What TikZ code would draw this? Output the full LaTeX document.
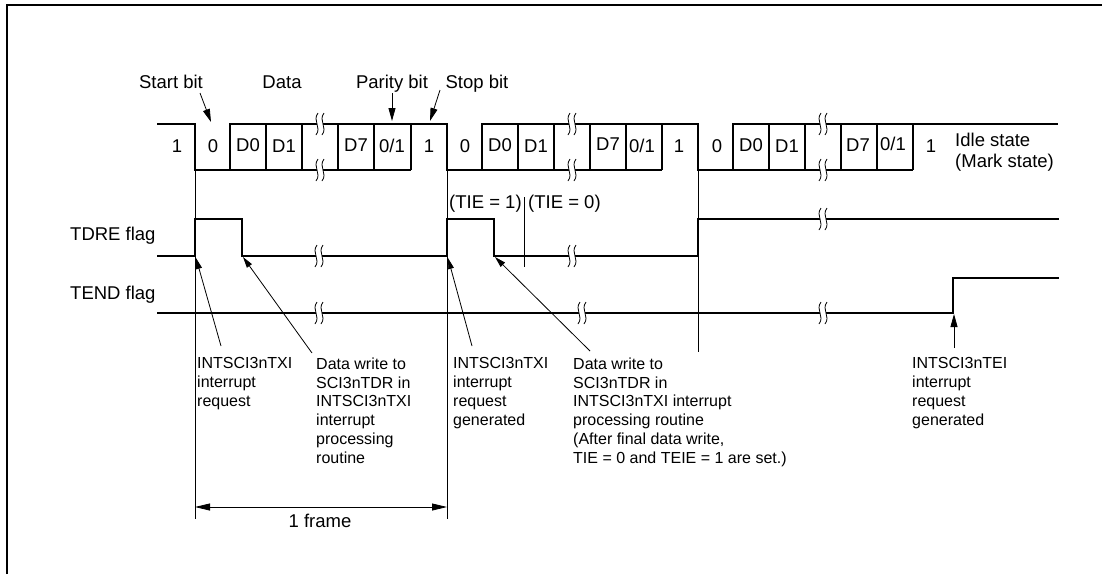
\documentclass[tikz,border=0pt]{standalone}
\usepackage{fontspec}
\setmainfont{Liberation Sans}
\usetikzlibrary{arrows.meta}
\begin{document}
\begin{tikzpicture}[x=1pt,y=-1pt,
  sig/.style={line width=1.8pt, line join=miter},
  thinl/.style={line width=0.9pt},
  ptr/.style={line width=0.8pt, -{Triangle[length=11pt,width=6pt]}},
  bigptr/.style={line width=0.8pt, -{Triangle[length=13pt,width=7pt]}},
  dimarr/.style={line width=0.8pt, {Triangle[length=15pt,width=7pt]}-{Triangle[length=15pt,width=7pt]}},
  lab/.style={font=\fontsize{18.5}{20}\selectfont, inner sep=0pt},
  note/.style={font=\fontsize{16}{18.8}\selectfont, inner sep=0pt, align=left, anchor=north west},
  brk/.pic={
    \fill[white] (1,-11) .. controls (-5,-3) and (5,3) .. (-1,11) -- (5,11) .. controls (11,3) and (1,-3) .. (7,-11) -- cycle;
    \draw[line width=0.8pt] (1,-11) .. controls (-5,-3) and (5,3) .. (-1,11);
    \draw[line width=0.8pt] (7,-11) .. controls (1,-3) and (11,3) .. (5,11);
  }
]
\useasboundingbox (0,0) rectangle (1102,574);
\draw[line width=2pt] (7,574) -- (7,5) -- (1102,5);

% ---------- serial data waveform ----------
% frame 1
\draw[sig] (157,124) -- (195,124) -- (195,170) -- (411,170);
\draw[sig] (230,170) -- (230,124) -- (447,124) -- (447,170) -- (662,170);
\foreach \x in {266,302,338,374,411} \draw[sig] (\x,124) -- (\x,170);
% frame 2
\draw[sig] (482,170) -- (482,124) -- (698,124) -- (698,170) -- (913,170);
\foreach \x in {518,554,590,626,662} \draw[sig] (\x,124) -- (\x,170);
% frame 3
\draw[sig] (733,170) -- (733,124) -- (1058,124);
\foreach \x in {769,805,841,877,913} \draw[sig] (\x,124) -- (\x,170);

% ---------- TDRE / TEND ----------
\draw[sig] (157,256) -- (195,256) -- (195,219) -- (242,219) -- (242,256) -- (447,256) -- (447,219) -- (494,219) -- (494,256) -- (698,256) -- (698,219) -- (1059,219);
\draw[sig] (157,313) -- (953,313) -- (953,278) -- (1059,278);

% ---------- thin vertical guides ----------
\draw[thinl] (195,170) -- (195,519);
\draw[thinl] (447,170) -- (447,519);
\draw[thinl] (698,170) -- (698,352);
\draw[thinl] (524,197) -- (524,267);

% ---------- breaks ----------
\foreach \x in {317,569,820} {\pic at (\x,124) {brk}; \pic at (\x,170) {brk};}
\pic at (316,256) {brk};
\pic at (569,256) {brk};
\pic at (820,219) {brk};
\pic at (316,313) {brk};
\pic at (579,313) {brk};
\pic at (820,313) {brk};

% ---------- labels ----------
\node[lab, anchor=base] (startbit) at (171,88) {Start bit};
\node[lab, anchor=base] (data) at (282,88) {Data};
\node[lab, anchor=base] (parity) at (392,88) {Parity bit};
\node[lab, anchor=base] (stopbit) at (477,88) {Stop bit};

\coordinate (sbA) at (200,93);  \coordinate (sbB) at (211,122);
\coordinate (pbA) at (392,93);  \coordinate (pbB) at (392,121);
\coordinate (stA) at (440,90);  \coordinate (stB) at (430,121);
\draw[bigptr] (sbA) -- (sbB);
\draw[bigptr] (pbA) -- (pbB);
\draw[bigptr] (stA) -- (stB);

% bit labels
\node[lab, anchor=base] (f1a) at (177,152) {1};
\node[lab, anchor=base] (f1b) at (213,152) {0};
\node[lab, anchor=base] (f1c) at (248,151) {D0};
\node[lab, anchor=base] (f1d) at (284,152) {D1};
\node[lab, anchor=base] (f1e) at (356,151) {D7};
\node[lab, anchor=base] (f1f) at (392,152) {0/1};
\node[lab, anchor=base] (f1g) at (429,152) {1};
\node[lab, anchor=base] (f2b) at (465,152) {0};
\node[lab, anchor=base] (f2c) at (500,151) {D0};
\node[lab, anchor=base] (f2d) at (536,152) {D1};
\node[lab, anchor=base] (f2e) at (608,150) {D7};
\node[lab, anchor=base] (f2f) at (642,152) {0/1};
\node[lab, anchor=base] (f2g) at (679,152) {1};
\node[lab, anchor=base] (f3b) at (717,152) {0};
\node[lab, anchor=base] (f3c) at (751,151) {D0};
\node[lab, anchor=base] (f3d) at (787,152) {D1};
\node[lab, anchor=base] (f3e) at (858,151) {D7};
\node[lab, anchor=base] (f3f) at (893,150) {0/1};
\node[lab, anchor=base] (f3g) at (931,152) {1};
\node[lab, anchor=base west] (idle) at (955,146) {Idle state};
\node[lab, anchor=base west] (mark) at (955,167) {(Mark state)};

\node[lab, anchor=base west] (tdre) at (70,240) {TDRE flag};
\node[lab, anchor=base west] (tend) at (70,299) {TEND flag};
\node[lab, anchor=base west] (tie1) at (449,208) {(TIE = 1)};
\node[lab, anchor=base west] (tie0) at (528,208) {(TIE = 0)};

% ---------- notes ----------
\node[note] (n1) at (197,357.5) {INTSCI3nTXI\\interrupt\\request};
\node[note] (n2) at (316,357.5) {Data write to\\SCI3nTDR in\\INTSCI3nTXI\\interrupt\\processing\\routine};
\node[note] (n3) at (453,357.5) {INTSCI3nTXI\\interrupt\\request\\generated};
\node[note] (n4) at (573,357.5) {Data write to\\SCI3nTDR in\\INTSCI3nTXI interrupt\\processing routine\\(After final data write,\\TIE = 0 and TEIE = 1 are set.)};
\node[note] (n5) at (912,357.5) {INTSCI3nTEI\\interrupt\\request\\generated};

\coordinate (a1A) at (221,346); \coordinate (a1B) at (196,258);
\coordinate (a2A) at (312,353); \coordinate (a2B) at (243,257);
\coordinate (a3A) at (472,346); \coordinate (a3B) at (448,258);
\coordinate (a4A) at (590,351); \coordinate (a4B) at (495,257);
\coordinate (a5A) at (954,348); \coordinate (a5B) at (954,314);
\draw[ptr] (a1A) -- (a1B);
\draw[ptr] (a2A) -- (a2B);
\draw[ptr] (a3A) -- (a3B);
\draw[ptr] (a4A) -- (a4B);
\draw[bigptr] (a5A) -- (a5B);

% ---------- 1 frame dimension ----------
\coordinate (dL) at (195,507); \coordinate (dR) at (447,507);
\draw[dimarr] (dL) -- (dR);
\node[lab, anchor=base] (frame) at (320,527) {1 frame};
\end{tikzpicture}
\end{document}
